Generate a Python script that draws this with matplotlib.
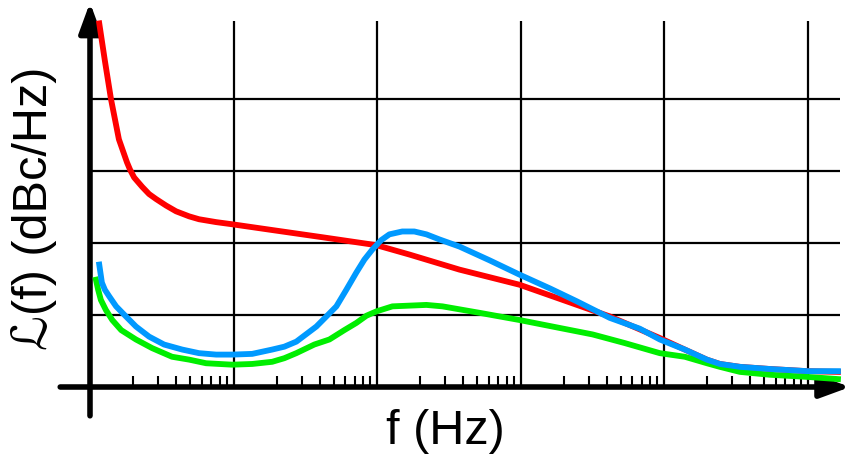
import numpy as np
import matplotlib
matplotlib.use("Agg")
import matplotlib.pyplot as plt
from matplotlib.ticker import FixedLocator, NullLocator

plt.rcParams['font.family'] = ['Liberation Sans', 'DejaVu Sans']

# Curves (f in Hz, level in grid units)
red_f = [1.16, 1.27, 1.40, 1.59, 1.81, 1.90, 2.03, 2.31, 2.58, 2.89, 3.39, 3.98, 4.91,
         5.75, 7.57, 9.8, 18.6, 41.6, 99, 168, 376, 986, 2100, 4190, 9350, 13960,
         19900, 24500, 33800, 54700, 99300, 163000]
red_L = [5.05, 4.53, 4.00, 3.44, 3.12, 3.02, 2.91, 2.78, 2.68, 2.61, 2.52, 2.44, 2.37,
         2.33, 2.29, 2.26, 2.18, 2.08, 1.97, 1.84, 1.63, 1.42, 1.19, 0.98, 0.68, 0.52,
         0.38, 0.32, 0.28, 0.25, 0.22, 0.21]

blue_f = [1.16, 1.21, 1.27, 1.36, 1.52, 1.78, 2.09, 2.58, 3.28, 4.39, 5.75, 7.57, 9.8,
          13.5, 18.6, 22.6, 27.4, 37.8, 44.4, 52.1, 61.1, 71.8, 81.7, 92.9, 107, 122,
          150, 182, 221, 272, 376, 608, 986, 1600, 2470, 4190, 6780, 9350, 13960,
          19900, 24500, 33800, 54700, 100000, 163000]
blue_L = [1.70, 1.45, 1.35, 1.26, 1.12, 0.98, 0.84, 0.70, 0.59, 0.52, 0.47, 0.45, 0.45,
          0.46, 0.52, 0.56, 0.63, 0.84, 0.98, 1.12, 1.35, 1.59, 1.77, 1.91, 2.04, 2.12,
          2.16, 2.16, 2.12, 2.05, 1.95, 1.76, 1.56, 1.37, 1.19, 0.96, 0.81, 0.66, 0.52,
          0.38, 0.32, 0.28, 0.25, 0.22, 0.22]

green_f = [1.10, 1.14, 1.19, 1.29, 1.43, 1.65, 2.09, 2.71, 3.73, 4.91, 6.44, 9.8, 13.5,
           18.6, 22.6, 27.4, 36.6, 46.6, 59.2, 71.8, 84.4, 99, 128, 168, 221, 286, 519,
           986, 1875, 3180, 5330, 9350, 13960, 19900, 24500, 33800, 54700, 100000, 163000]
green_L = [1.49, 1.35, 1.21, 1.07, 0.93, 0.79, 0.66, 0.54, 0.42, 0.38, 0.33, 0.31, 0.32,
           0.35, 0.40, 0.47, 0.59, 0.66, 0.79, 0.89, 0.99, 1.05, 1.12, 1.13, 1.14, 1.12,
           1.03, 0.93, 0.82, 0.73, 0.61, 0.47, 0.42, 0.33, 0.28, 0.21, 0.17, 0.14, 0.11]

decades = [10, 100, 1e3, 1e4, 1e5]
levels = [1, 2, 3, 4]
minor = [m * 10 ** k for k in range(5) for m in range(2, 10)]

fig = plt.figure(figsize=(8.5, 4.6), dpi=100)
ax = fig.add_axes([0, 0, 1, 1])
ax.set_xscale('log')
ax.set_xlim(10 ** (-90 / 143.5), 10 ** (760 / 143.5))
ax.set_ylim(-72 / 72, 388 / 72)
ax.set_facecolor('white')

# grid
ax.vlines(decades, 0, 5.08, color='k', lw=1.6, zorder=1)
ax.hlines(levels, 1, 1.68e5, color='k', lw=1.6, zorder=1)

# axes with arrows
arr = dict(arrowstyle='-|>,head_length=0.9,head_width=0.33', color='k', lw=4,
           mutation_scale=20, shrinkA=0, shrinkB=0)
ax.annotate('', xy=(1, 5.34), xytext=(1, -0.40), arrowprops=arr, zorder=3)
ax.annotate('', xy=(1.98e5, 0), xytext=(0.62, 0), arrowprops=arr, zorder=3)

# minor ticks on the f axis
for s in ax.spines.values():
    s.set_visible(False)
ax.spines['bottom'].set_position(('data', 0))
ax.xaxis.set_major_locator(NullLocator())
ax.xaxis.set_minor_locator(FixedLocator(minor))
ax.xaxis.set_minor_formatter(plt.NullFormatter())
ax.tick_params(axis='x', which='minor', direction='in', length=8, width=1.5, color='k')
ax.set_yticks([])

ax.plot(red_f, red_L, color='#ff0000', lw=4.2, zorder=4, solid_joinstyle='round')
ax.plot(green_f, green_L, color='#00ee00', lw=4.2, zorder=4, solid_joinstyle='round')
ax.plot(blue_f, blue_L, color='#0099ff', lw=4.2, zorder=5, solid_joinstyle='round')

fig.text(445 / 850, 1 - 432 / 460, 'f (Hz)', fontsize=35, ha='center', va='center')
fig.text(34 / 850, 1 - 208 / 460, 'ℒ(f) (dBc/Hz)', fontsize=35, rotation=90,
         ha='center', va='center')

fig.savefig('out.png', dpi=100, facecolor='white')
